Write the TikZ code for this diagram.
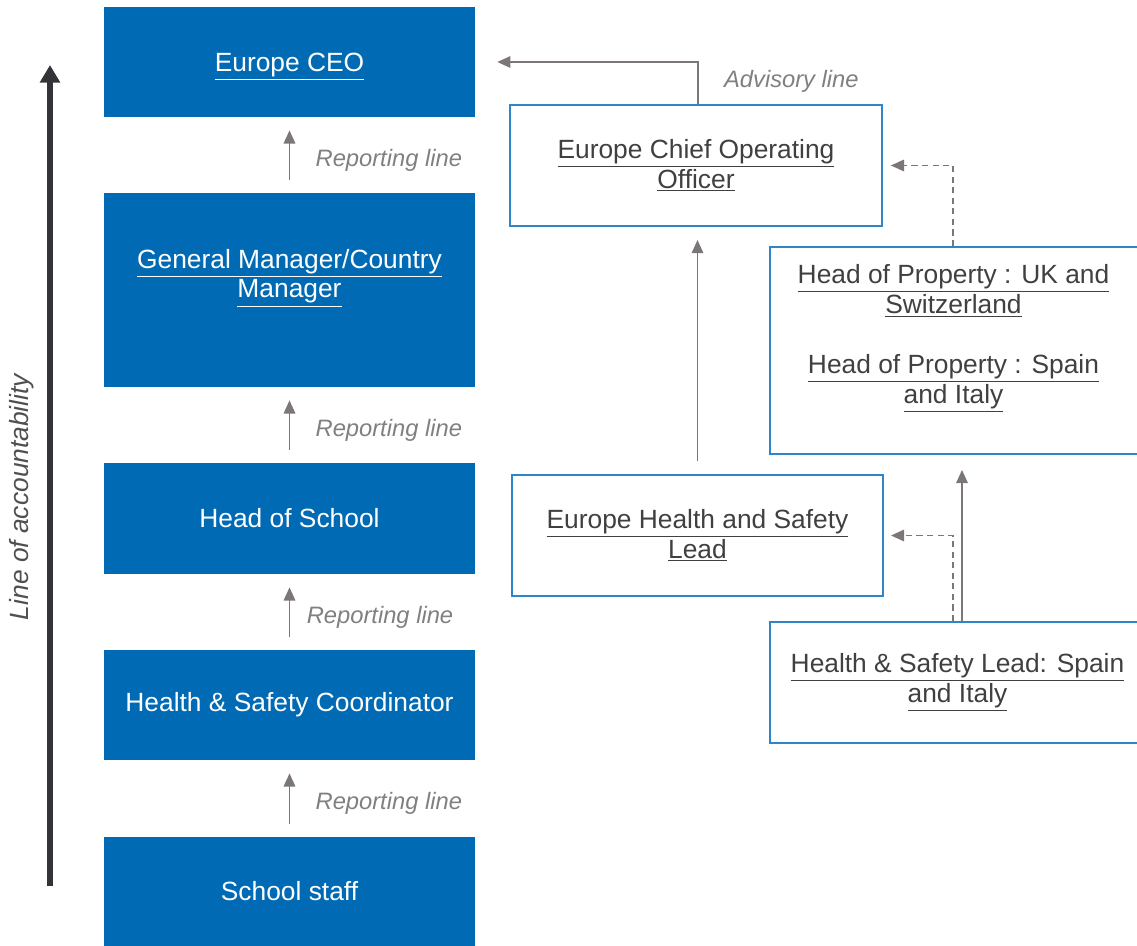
\documentclass[tikz,border=0pt]{standalone}
\usepackage{fontspec}
\setmainfont{Liberation Sans}
\usepackage{tikz}
\usetikzlibrary{%
  positioning,%
  calc,%
  arrows.meta%
}
\definecolor{boxblue}{RGB}{0,107,180}
\definecolor{lineblue}{RGB}{46,134,200}
\definecolor{textgray}{RGB}{64,64,64}
\definecolor{arrowgray}{RGB}{125,118,118}
\definecolor{labelgray}{RGB}{128,128,128}
\definecolor{bigarrow}{RGB}{50,52,55}
\definecolor{acctext}{RGB}{80,80,80}
\newcommand{\boxfont}{\fontsize{15}{17}\selectfont}
\newcommand{\labelfont}{\fontsize{13.5}{16}\selectfont}

\begin{document}
\begin{tikzpicture}[x=0.02cm, y=-0.02cm,
    bluebox/.style={fill=boxblue, text=white, align=center, font=\boxfont,
        inner sep=0pt, minimum width=7.42cm},
    whitebox/.style={draw=lineblue, line width=1.1pt, fill=white, text=textgray,
        align=center, font=\boxfont, inner sep=0pt},
    boxtext/.style={align=center, font=\boxfont, yshift=0.24cm},
    repline/.style={draw=arrowgray, line width=1.1pt,
        -{Triangle[width=6.5pt,length=7.5pt]}, shorten <=7.4pt, shorten >=7.4pt},
    advline/.style={repline, dash pattern=on 3.5pt off 2.5pt, shorten <=0pt},
    replabel/.style={text=labelgray, font=\labelfont\itshape, right=11pt, yshift=-0.1cm}
]
    \useasboundingbox (0,0) rectangle (1137,946);
    \node[bluebox, minimum height=2.2cm, text depth=0pt] (ceo) at (289.5,62) {\underline{Europe CEO}};
    \node[bluebox, minimum height=3.88cm,
        label={[boxtext, text=white]center:{\underline{General Manager/Country}\\\underline{Manager}}}]
        (gm) at (289.5,290) {};
    \node[bluebox, minimum height=2.22cm] (hos) at (289.5,518.5) {Head of School};
    \node[bluebox, minimum height=2.2cm] (hsc) at (289.5,705) {Health \& Safety Coordinator};
    \node[bluebox, minimum height=2.18cm] (staff) at (289.5,891.5) {School staff};
    \node[whitebox, minimum width=7.44cm, minimum height=2.42cm] (coo) at (696,165.5)
        {\underline{Europe Chief Operating}\\\underline{Officer}};
    \node[whitebox, minimum width=7.5cm, minimum height=4.14cm,
        label={[boxtext, text=textgray, xshift=-0.08cm]center:{\underline{Head of Property : UK and}\\\underline{Switzerland}\\[17pt]\underline{Head of Property : Spain}\\\underline{and Italy}}}]
        (hop) at (957.5,350.5) {};
    \node[whitebox, minimum width=7.42cm, minimum height=2.42cm] (ehs) at (697.5,535.5)
        {\underline{Europe Health and Safety}\\\underline{Lead}};
    \node[whitebox, minimum width=7.5cm, minimum height=2.42cm] (hsl) at (957.5,682.5)
        {\underline{Health \& Safety Lead: Spain}\\\underline{and Italy}};

    \coordinate (acctop) at (50,65);
    \coordinate (accbot) at (50,886);
    \draw[line width=3.4pt, bigarrow, -{Triangle[width=11pt,length=10pt]}] (accbot) -- (acctop);
    \node[rotate=90, font=\boxfont\itshape, text=acctext] (acc) at (22,497) {Line of accountability};

    \path[repline] (gm) -- node[replabel] (rep1) {Reporting line} (ceo);
    \path[repline] (hos) -- node[replabel] (rep2) {Reporting line} (gm);
    \path[repline] (hsc) -- node[replabel, right=6pt] (rep3) {Reporting line} (hos);
    \path[repline] (staff) -- node[replabel] (rep4) {Reporting line} (hsc);

    \draw[repline, shorten <=0pt, shorten >=12.5pt] ($(coo.north)+(2,0)$) |- node[replabel, pos=0.3, yshift=0.05cm] (adv) {Advisory line} (ceo.east);
    \draw[repline] (ehs.north) -- (ehs.north |- coo.south);
    \draw[advline, shorten >=4.5pt] ($(hop.north)+(-4.5,0)$) |- (coo.east);
    \draw[advline, shorten >=4pt] ($(hsl.north)+(-4.5,0)$) |- (ehs.east);
    \draw[repline, shorten <=0pt, shorten >=8.5pt] ($(hsl.north)+(4.5,0)$) -- ($(hop.south)+(4.5,0)$);
\end{tikzpicture}
\end{document}
